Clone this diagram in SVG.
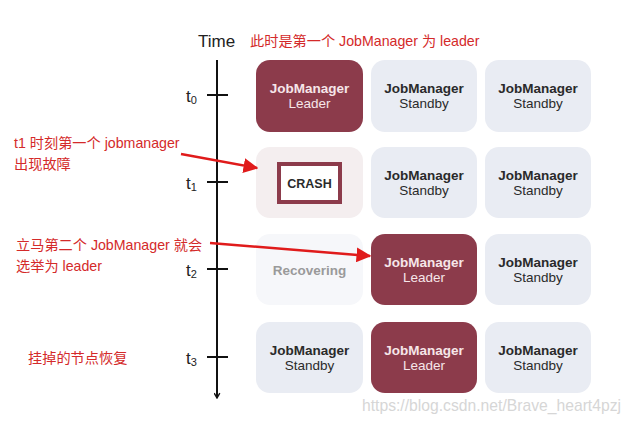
<svg xmlns="http://www.w3.org/2000/svg" width="631" height="422" viewBox="0 0 631 422">
<style>
.box{rx:14;ry:14}
.leader{fill:#8c3b4b}
.standby{fill:#e9ecf3}
.t1{font-family:"Liberation Sans",Arial,sans-serif;font-size:13.5px;font-weight:bold;text-anchor:middle}
.t2{font-family:"Liberation Sans",Arial,sans-serif;font-size:13.5px;text-anchor:middle}
.lw{fill:#f6e6e9}
.sd{fill:#2a2a2a}
.red{font-family:"Liberation Sans","Noto Sans CJK SC",sans-serif;font-size:14.2px;fill:#d42a2a}
.tl{font-family:"Liberation Sans",Arial,sans-serif;font-size:17px;fill:#222}
.sub{font-size:11px}
</style>
<defs>
<marker id="ah" viewBox="0 0 10 10" refX="9" refY="5" markerWidth="6" markerHeight="6" orient="auto" markerUnits="strokeWidth">
<path d="M0,0 L10,5 L0,10 z" fill="#e01b1b"/>
</marker>
<marker id="ak" viewBox="0 0 10 10" refX="8" refY="5" markerWidth="7" markerHeight="7" orient="auto" markerUnits="userSpaceOnUse">
<path d="M1,1 L8,5 L1,9" fill="none" stroke="#111" stroke-width="2"/>
</marker>
</defs>
<rect width="631" height="422" fill="#fff"/>

<g id="axis">
<line x1="217" y1="60" x2="217" y2="398" stroke="#111" stroke-width="2" marker-end="url(#ak)"/>
<line x1="207" y1="95" x2="228" y2="95" stroke="#111" stroke-width="2"/>
<line x1="207" y1="182" x2="228" y2="182" stroke="#111" stroke-width="2"/>
<line x1="207" y1="269" x2="228" y2="269" stroke="#111" stroke-width="2"/>
<line x1="207" y1="357" x2="228" y2="357" stroke="#111" stroke-width="2"/>
<text class="tl" x="198" y="47">Time</text>
<text class="tl" x="186" y="102">t<tspan class="sub" dy="2">0</tspan></text>
<text class="tl" x="186" y="189">t<tspan class="sub" dy="2">1</tspan></text>
<text class="tl" x="186" y="276">t<tspan class="sub" dy="2">2</tspan></text>
<text class="tl" x="186" y="364">t<tspan class="sub" dy="2">3</tspan></text>
</g>

<g id="r0c0"><rect class="box leader" x="256" y="60" width="107" height="72"/><text class="t1 lw" x="309.5" y="93">JobManager</text><text class="t2 lw" x="309.5" y="108">Leader</text></g>
<g id="r0c1"><rect class="box standby" x="371" y="60" width="106" height="72"/><text class="t1 sd" x="424" y="93">JobManager</text><text class="t2 sd" x="424" y="108">Standby</text></g>
<g id="r0c2"><rect class="box standby" x="485" y="60" width="106" height="72"/><text class="t1 sd" x="538" y="93">JobManager</text><text class="t2 sd" x="538" y="108">Standby</text></g>

<g id="r1c0"><rect class="box" fill="#f4eeef" x="256" y="147" width="107" height="71"/><rect x="279" y="164" width="61" height="38" fill="#fff" stroke="#8c3b4b" stroke-width="4"/><text class="t1 sd" x="309.5" y="188" style="font-size:12.5px">CRASH</text></g>
<g id="r1c1"><rect class="box standby" x="371" y="147" width="106" height="71"/><text class="t1 sd" x="424" y="180">JobManager</text><text class="t2 sd" x="424" y="195">Standby</text></g>
<g id="r1c2"><rect class="box standby" x="485" y="147" width="106" height="71"/><text class="t1 sd" x="538" y="180">JobManager</text><text class="t2 sd" x="538" y="195">Standby</text></g>

<g id="r2c0"><rect class="box" fill="#f6f7fa" x="256" y="234" width="107" height="71"/><text class="t1" fill="#9a9a9a" x="309.5" y="275">Recovering</text></g>
<g id="r2c1"><rect class="box leader" x="371" y="234" width="106" height="71"/><text class="t1 lw" x="424" y="267">JobManager</text><text class="t2 lw" x="424" y="282">Leader</text></g>
<g id="r2c2"><rect class="box standby" x="485" y="234" width="106" height="71"/><text class="t1 sd" x="538" y="267">JobManager</text><text class="t2 sd" x="538" y="282">Standby</text></g>

<g id="r3c0"><rect class="box standby" x="256" y="322" width="107" height="71"/><text class="t1 sd" x="309.5" y="355">JobManager</text><text class="t2 sd" x="309.5" y="370">Standby</text></g>
<g id="r3c1"><rect class="box leader" x="371" y="322" width="106" height="71"/><text class="t1 lw" x="424" y="355">JobManager</text><text class="t2 lw" x="424" y="370">Leader</text></g>
<g id="r3c2"><rect class="box standby" x="485" y="322" width="106" height="71"/><text class="t1 sd" x="538" y="355">JobManager</text><text class="t2 sd" x="538" y="370">Standby</text></g>

<g id="connectors" stroke="#e01b1b" stroke-width="2.5" fill="none">
<line x1="181" y1="154" x2="257" y2="168" marker-end="url(#ah)"/>
<line x1="210" y1="243" x2="370" y2="256" marker-end="url(#ah)"/>
</g>

<g id="notes">
<text class="red" x="250" y="46">此时是第一个 JobManager 为 leader</text>
<text class="red" x="14" y="148">t1 时刻第一个 jobmanager</text>
<text class="red" x="14" y="169">出现故障</text>
<text class="red" x="16" y="250">立马第二个 JobManager 就会</text>
<text class="red" x="16" y="271">选举为 leader</text>
<text class="red" x="28" y="363">挂掉的节点恢复</text>
</g>

<text x="362" y="411" font-family="Liberation Sans,Arial,sans-serif" font-size="15.7" fill="#d6d6d6">https://blog.csdn.net/Brave_heart4pzj</text>
</svg>
